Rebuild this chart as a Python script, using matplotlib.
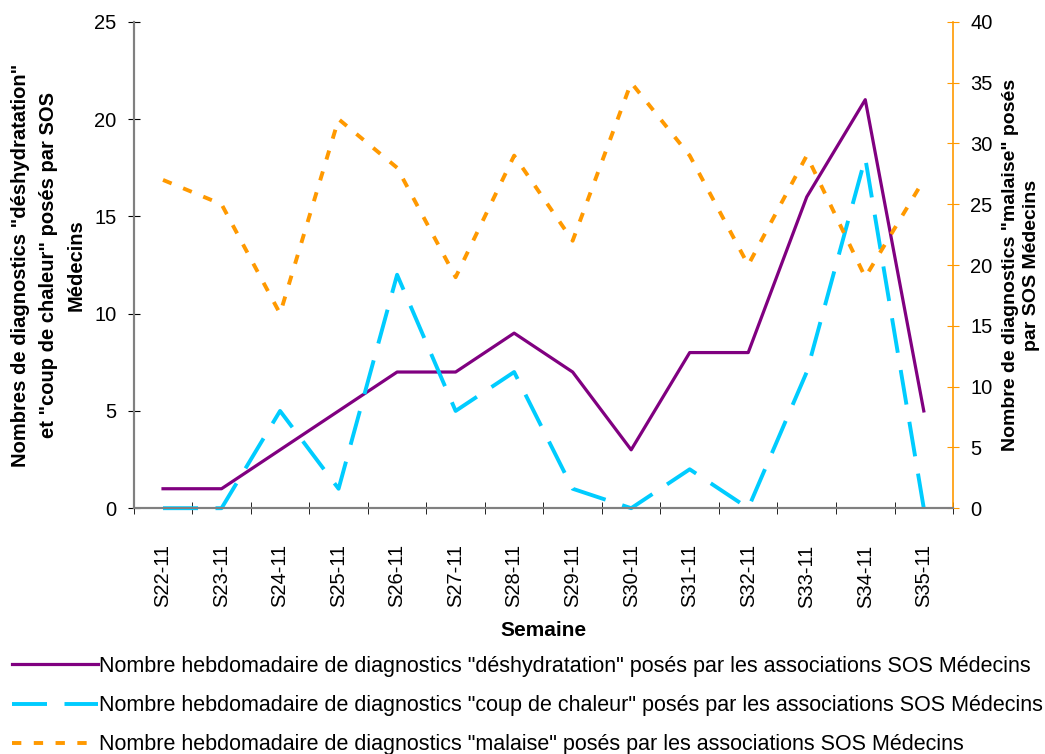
import matplotlib
matplotlib.use("Agg")
import matplotlib.pyplot as plt
import numpy as np

plt.rcParams['font.family'] = ['Liberation Sans', 'DejaVu Sans']

# Données hebdomadaires
semaines = ["S22-11", "S23-11", "S24-11", "S25-11", "S26-11", "S27-11", "S28-11",
            "S29-11", "S30-11", "S31-11", "S32-11", "S33-11", "S34-11", "S35-11"]
deshydratation = [1, 1, 3, 5, 7, 7, 9, 7, 3, 8, 8, 16, 21, 5]
coup_chaleur = [0, 0, 5, 1, 12, 5, 7, 1, 0, 2, 0, 7, 18, 0]
malaise = [27, 25, 16, 32, 28, 19, 29, 22, 35, 29, 20, 29, 19, 27]

lab_desh = 'Nombre hebdomadaire de diagnostics "déshydratation" posés par les associations SOS Médecins'
lab_coup = 'Nombre hebdomadaire de diagnostics "coup de chaleur" posés par les associations SOS Médecins'
lab_mal = 'Nombre hebdomadaire de diagnostics "malaise" posés par les associations SOS Médecins'

violet = "#800080"
cyan = "#00CCFF"
orange = "#FF9900"
gris = "#808080"

fig = plt.figure(figsize=(10.45, 7.54), dpi=100)
ax = fig.add_axes([0.128, 0.326, 0.784, 0.645])
ax2 = ax.twinx()

x = np.arange(len(semaines))
l1, = ax.plot(x, deshydratation, color=violet, lw=2.3, clip_on=False, zorder=3)
l2, = ax.plot(x, coup_chaleur, color=cyan, lw=2.8, dashes=(9, 4.5), clip_on=False, zorder=3)
l3, = ax2.plot(x, malaise, color=orange, lw=2.8, dashes=(2.4, 3.2), clip_on=False)

ax.set_xlim(-0.5, len(semaines) - 0.5)
ax.set_ylim(0, 25)
ax2.set_ylim(0, 40)

# Axe des abscisses
ax.set_xticks(x)
ax.set_xticklabels(semaines, rotation=90, fontsize=14.5)
ax.set_xticks(np.arange(-0.5, len(semaines)), minor=True)
ax.tick_params(axis='x', which='major', length=0, pad=26)
ax.tick_params(axis='x', which='minor', length=9, direction='inout', color='black')
ax.set_xlabel("Semaine", fontsize=15, fontweight='bold', labelpad=10)

# Axe de gauche
ax.set_yticks([0, 5, 10, 15, 20, 25])
ax.tick_params(axis='y', length=9, direction='inout', color='black', labelsize=14.5, pad=8)
ax.set_ylabel('Nombres de diagnostics "déshydratation"\net "coup de chaleur" posés par SOS\nMédecins',
              fontsize=14.5, fontweight='bold', labelpad=6, linespacing=1.6)

# Axe de droite
ax2.set_yticks([0, 5, 10, 15, 20, 25, 30, 35, 40])
ax2.tick_params(axis='y', length=9, direction='inout', color=orange, labelsize=14.5, pad=8)
ax2.set_ylabel('Nombre de diagnostics "malaise" posés\npar SOS Médecins',
               fontsize=14, fontweight='bold', labelpad=7, linespacing=1.3)

for a in (ax, ax2):
    a.spines['top'].set_visible(False)
    a.spines['left'].set_color(gris)
    a.spines['bottom'].set_color(gris)
    a.spines['left'].set_linewidth(1.5)
    a.spines['bottom'].set_linewidth(1.5)
ax.spines['right'].set_visible(False)
ax2.spines['right'].set_color(orange)
ax2.spines['right'].set_linewidth(1.2)

fig.legend([l1, l2, l3], [lab_desh, lab_coup, lab_mal], loc='upper left',
           bbox_to_anchor=(0.0, 1 - 644 / 754), frameon=False, fontsize=15.5,
           handlelength=4.0, handletextpad=0.05, labelspacing=0.85, borderaxespad=0.15)

fig.savefig("out.png", dpi=100)
